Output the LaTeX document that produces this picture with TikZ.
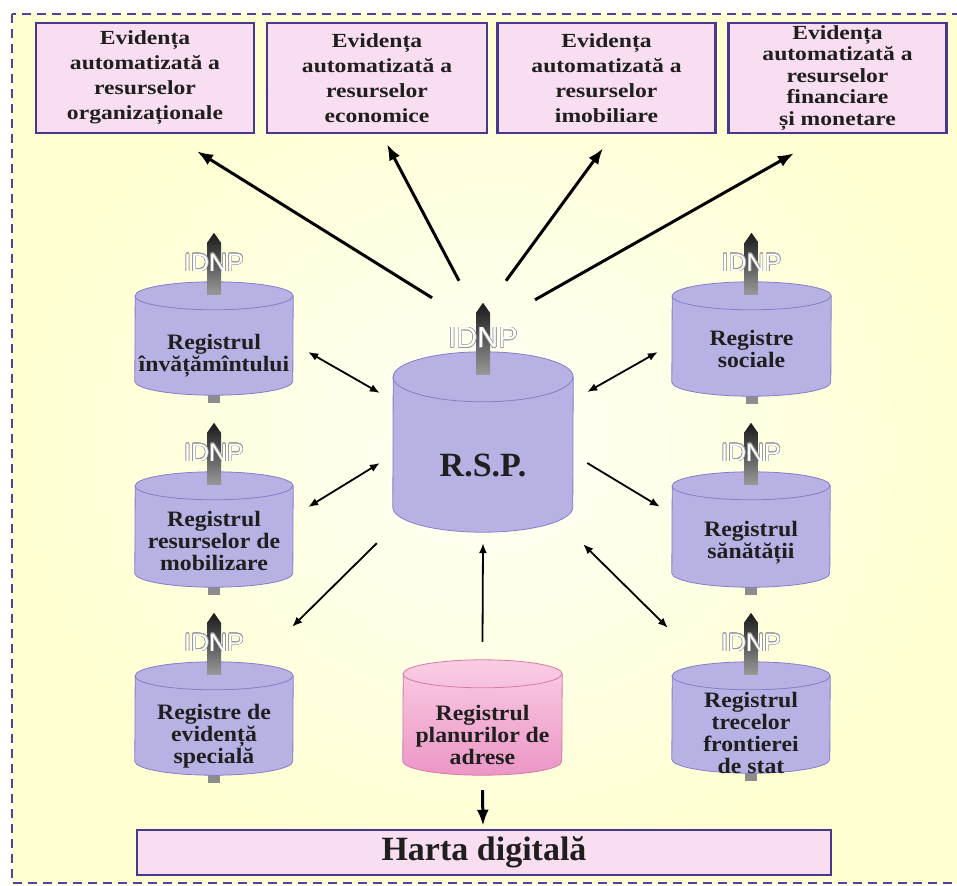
\documentclass[tikz,border=0pt]{standalone}
\usepackage{fontspec}
\setmainfont{Liberation Serif}
\newfontfamily\boxfont[FakeStretch=1.18]{Liberation Serif}
\newfontfamily\cylfont[FakeStretch=1.08]{Liberation Serif}
\newfontfamily\idfont{Liberation Sans}
\usepackage[copies]{contour}
\contourlength{0.5pt}
\contournumber{24}
\usepackage{tikz}
\usepackage{xcolor}
\usetikzlibrary{arrows.meta}

\definecolor{boxpink}{RGB}{248,222,240}
\definecolor{boxline}{RGB}{70,56,140}
\definecolor{cylfill}{RGB}{184,178,228}
\definecolor{cyledge}{RGB}{135,124,200}
\definecolor{pinklight}{RGB}{250,205,228}
\definecolor{pinkdark}{RGB}{236,150,198}
\definecolor{pinkedge}{RGB}{214,120,170}
\definecolor{dashline}{RGB}{82,66,156}

\pgfdeclarelayer{background}
\pgfdeclarelayer{cylinders}
\pgfsetlayers{background,cylinders,main}

% cylinder drawn round an empty named node
\newcommand\drawcyl[5]{%
  \path[#1] ([shift={(0,-#5)}]#3.south west) arc[start angle=180,end angle=360,x radius=#4pt,y radius=#5pt]
    -- ([shift={(0,#5)}]#3.north east) arc[start angle=0,end angle=180,x radius=#4pt,y radius=#5pt] -- cycle;
  \draw[#2,line width=0.8pt] ([shift={(0,#5)}]#3.north west) arc[start angle=180,end angle=360,x radius=#4pt,y radius=#5pt];
}
% grey rod with its IDNP tag
\newcommand\idnprod[4][idnp]{%
  \shade[top color=black!90,bottom color=black!40] ([shift={(0,-49)}]#2.north) -- ++(7,10) -- ++(0,#3) -- ++(-14,0) -- ++(0,-#3) -- cycle;
  \node[#1] (#2-id) at ([shift={(0,-#4)}]#2.north) {\contour{black!40}{IDNP}};
}
\newcommand\rodstub[1]{\fill[black!45] ([shift={(-6,-2)}]#1.south) rectangle ([shift={(6,8)}]#1.south);}

\tikzset{
  evbox/.style={draw=boxline,fill=boxpink,line width=2.5pt,minimum width=218pt,minimum height=110pt,
    inner sep=0pt,align=center,text=black!88,font=\boxfont\bfseries\fontsize{20}{25}\selectfont},
  mapbox/.style={draw=boxline,fill=boxpink,line width=2.5pt,minimum width=694pt,minimum height=45pt,
    inner sep=0pt,text=black!88,font=\bfseries\fontsize{34}{36}\selectfont},
  reg/.style={inner sep=0pt,minimum width=158pt,minimum height=113pt},
  regtext/.style={align=center,text=black!88,font=\cylfont\bfseries\fontsize{22}{22}\selectfont},
  cylbody/.style={draw=cyledge,line width=0.8pt,fill=cylfill},
  pinkbody/.style={draw=pinkedge,line width=0.8pt,top color=pinklight,bottom color=pinkdark},
  idnp/.style={inner sep=0pt,text=white,font=\idfont\fontsize{25}{25}\selectfont},
  bigidnp/.style={inner sep=0pt,text=white,font=\idfont\fontsize{29}{29}\selectfont},
  bigarrow/.style={line width=3pt,-{Latex[length=16pt,width=12pt]}},
  onearrow/.style={line width=1.8pt,-{Latex[length=10pt,width=8pt]}},
  twoway/.style={line width=1.8pt,{Latex[length=10pt,width=8pt]}-{Latex[length=10pt,width=8pt]}},
}

\begin{document}
\begin{tikzpicture}[x=1pt,y=-1pt]
  \useasboundingbox (0,0) rectangle (957,885);
  % frame
  \begin{pgfonlayer}{background}
    \shade[inner color=yellow!3,outer color=yellow!18] (12,14) rectangle (975,883);
    \draw[dashline,line width=2pt,dash pattern=on 9pt off 6pt] (12,14) rectangle (975,883);
  \end{pgfonlayer}

  % top boxes
  \node[evbox] (org) at (145,78) {Evidența\\automatizată a\\resurselor\\organizaționale};
  \node[evbox,minimum width=220pt] (eco) at (377,78) {Evidența\\automatizată a\\resurselor\\economice};
  \node[evbox] (imo) at (606.5,78) {Evidența\\automatizată a\\resurselor\\imobiliare};
  \node[evbox,font=\boxfont\bfseries\fontsize{20}{21.5}\selectfont] (fin) at (837.5,78)
    {Evidența\\automatizată a\\resurselor\\financiare\\și monetare};

  % registers
  \node[reg,label={[regtext,yshift=-17.5pt]center:{Registrul\\învățămîntului}}] (inv) at (214,338.5) {};
  \node[reg,minimum height=115pt,label={[regtext,yshift=-11pt]center:{Registrul\\resurselor de\\mobilizare}}] (mob) at (214,529.5) {};
  \node[reg,label={[regtext,yshift=-17.5pt]center:{Registre de\\evidență\\specială}}] (evid) at (214,718.5) {};
  \node[reg,minimum width=159pt,minimum height=114pt,label={[regtext,yshift=-10pt]center:{Registre\\sociale}}] (soc) at (751.5,339) {};
  \node[reg,minimum height=115pt,label={[regtext,yshift=-13pt]center:{Registrul\\sănătății}}] (san) at (751,529.5) {};
  \node[reg,minimum height=111pt,label={[regtext,yshift=-15pt]center:{Registrul\\trecelor\\frontierei\\de stat}}] (trec) at (751,717.5) {};
  \node[reg,minimum width=180pt,minimum height=180pt,
    label={[text=black!88,font=\bfseries\fontsize{34}{34}\selectfont,yshift=-23pt]center:R.S.P.}] (rsp) at (483,442) {};
  \node[reg,minimum width=159pt,minimum height=115pt,label={[regtext,yshift=-17.5pt]center:{Registrul\\planurilor de\\adrese}}] (plan) at (482.5,717.5) {};
  \node[mapbox] (harta) at (484,852.5) {Harta digitală};

  \begin{pgfonlayer}{cylinders}
    \rodstub{inv} \rodstub{mob} \rodstub{evid}
    \rodstub{soc} \rodstub{san} \rodstub{trec}
    \drawcyl{cylbody}{cyledge}{inv}{79}{14}
    \drawcyl{cylbody}{cyledge}{mob}{79}{14}
    \drawcyl{cylbody}{cyledge}{evid}{79}{14}
    \drawcyl{cylbody}{cyledge}{soc}{79.5}{14}
    \drawcyl{cylbody}{cyledge}{san}{79}{14}
    \drawcyl{cylbody}{cyledge}{trec}{79}{14}
    \drawcyl{cylbody}{cyledge}{rsp}{90}{25}
    \drawcyl{pinkbody}{pinkedge}{plan}{79.5}{14}
  \end{pgfonlayer}

  % rods
  \idnprod{inv}{52}{19}
  \idnprod{mob}{52}{19}
  \idnprod{evid}{52}{19}
  \idnprod{soc}{52}{19}
  \idnprod{san}{52}{19}
  \idnprod{trec}{52}{19}
  \idnprod[bigidnp]{rsp}{62}{14}

  % arrows to the top boxes
  \draw[bigarrow] ([shift={(-51,-54)}]rsp.north) -- ([shift={(52,17)}]org.south);
  \draw[bigarrow] ([shift={(-24,-71)}]rsp.north) -- ([shift={(10,10)}]eco.south);
  \draw[bigarrow] ([shift={(23,-71)}]rsp.north) -- ([shift={(-3.5,14)}]imo.south);
  \draw[bigarrow] ([shift={(52,-52)}]rsp.north) -- ([shift={(-43.5,19)}]fin.south);

  % links between registers
  \draw[twoway] ([shift={(15,13.5)}]inv.east) -- ([shift={(-13,-49)}]rsp.west);
  \draw[twoway] ([shift={(15,-22.5)}]mob.east) -- ([shift={(-13,21)}]rsp.west);
  \draw[onearrow] ([shift={(-16,11)}]rsp.south west) -- ([shift={(-1,-35)}]evid.north east);
  \draw[onearrow] ([shift={(0,-18)}]plan.north) -- ([shift={(0,11)}]rsp.south);
  \draw[twoway] ([shift={(10,12)}]rsp.south east) -- ([shift={(-4,-34)}]trec.north west);
  \draw[onearrow] ([shift={(14,21)}]rsp.east) -- ([shift={(-12,35)}]san.north west);
  \draw[twoway] ([shift={(-14,13)}]soc.west) -- ([shift={(14,-50)}]rsp.east);
  \draw[bigarrow] ([shift={(0,15)}]plan.south) -- ([shift={(-1,-3)}]harta.north);
\end{tikzpicture}
\end{document}
